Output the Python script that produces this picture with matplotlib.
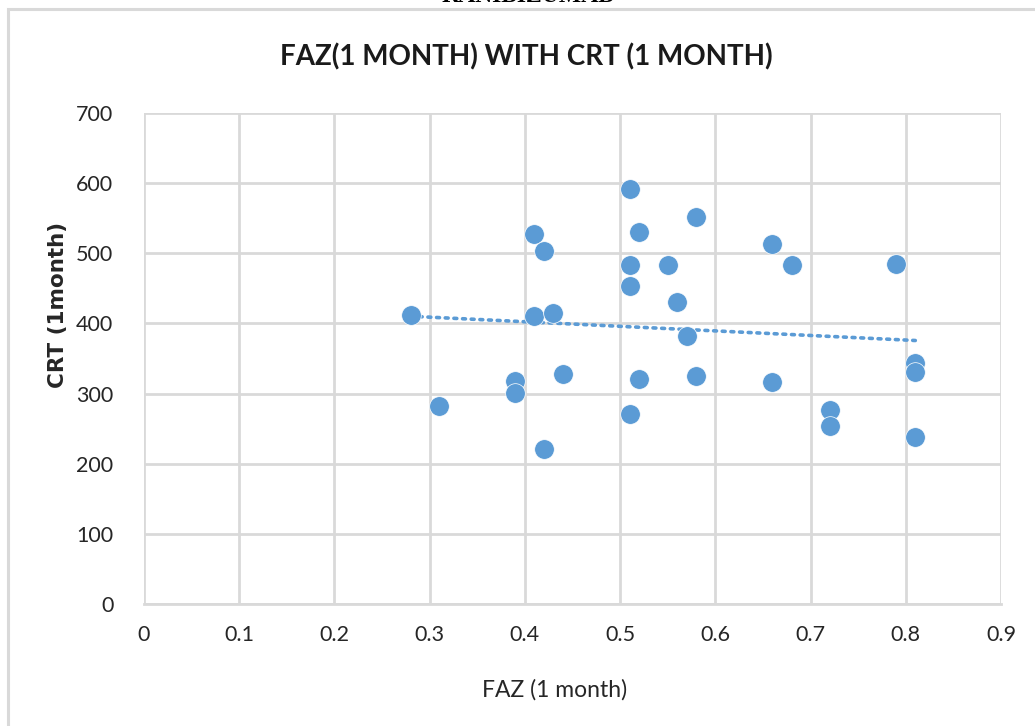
import matplotlib
matplotlib.use("Agg")
import matplotlib.pyplot as plt
import numpy as np
from matplotlib.patches import Rectangle

faz = [0.28, 0.31, 0.39, 0.39, 0.41, 0.41, 0.42, 0.42, 0.43, 0.44,
       0.51, 0.51, 0.51, 0.51, 0.52, 0.52, 0.55, 0.56, 0.57, 0.58,
       0.58, 0.66, 0.66, 0.68, 0.72, 0.72, 0.79, 0.81, 0.81, 0.81]
crt = [412, 282, 318, 301, 527, 410, 503, 221, 415, 328,
       592, 483, 453, 271, 530, 321, 483, 430, 382, 552,
       325, 513, 316, 483, 277, 254, 485, 344, 331, 238]
x_ticks = [0, 0.1, 0.2, 0.3, 0.4, 0.5, 0.6, 0.7, 0.8, 0.9]
x_tick_labels = ["0", "0.1", "0.2", "0.3", "0.4", "0.5", "0.6", "0.7", "0.8", "0.9"]
y_ticks = [0, 100, 200, 300, 400, 500, 600, 700]

plt.rcParams['font.family'] = ['Lato', 'DejaVu Sans']

W, H = 1035, 726
fig = plt.figure(figsize=(W / 100, H / 100), dpi=100)
fig.patch.set_facecolor("white")

# chart border
fig.patches.append(Rectangle((8 / W, -0.05), 1.1, 1 - 9 / H + 0.05, transform=fig.transFigure,
                             fill=False, edgecolor="#d9d9d9", linewidth=2.2, zorder=0))
# cut-off heading above the chart (as in the reference)
fig.text(528 / W, 1 + 3 / H, "RANIBIZUMAB", ha="center", va="center",
         fontsize=17, fontweight="bold", family=["Liberation Serif", "DejaVu Serif"])

left, right, top, bottom = 144, 1001, 113, 604
ax = fig.add_axes([left / W, 1 - bottom / H, (right - left) / W, (bottom - top) / H])
ax.set_xlim(0, 0.9)
ax.set_ylim(0, 700)
ax.set_xticks(x_ticks)
ax.set_xticklabels(x_tick_labels)
ax.set_yticks(y_ticks)
ax.grid(True, color="#d9d9d9", linewidth=2)
ax.set_axisbelow(True)
for s in ["top", "right", "left"]:
    ax.spines[s].set_visible(False)
ax.spines["bottom"].set_color("#d9d9d9")
ax.spines["bottom"].set_linewidth(2)
ax.tick_params(length=0, labelsize=15.5, colors="#404040", pad=15)
ax.tick_params(axis="y", pad=22)
for lbl in ax.get_xticklabels() + ax.get_yticklabels():
    lbl.set_color("#262626")

ax.scatter(faz, crt, s=200, color="#5b9bd5", edgecolors="white", linewidths=0.5, zorder=3)

# linear trendline
m, b = np.polyfit(faz, crt, 1)
xs = np.array([min(faz), max(faz)])
ax.plot(xs, m * xs + b, linestyle=(0, (0.8, 1.6)), color="#5b9bd5", linewidth=2.6,
        dash_capstyle="round", zorder=2)

fig.text(526 / W, 1 - 57 / H, "FAZ(1 MONTH) WITH CRT (1 MONTH)", ha="center", va="center",
         fontsize=20, fontweight="bold", color="#1a1a1a")
fig.text(555 / W, 1 - 690 / H, "FAZ (1 month)", ha="center", va="center",
         fontsize=16.5, color="#262626")
fig.text(58 / W, 1 - 305 / H, "CRT (1month)", ha="center", va="center", rotation=90,
         fontsize=15.5, fontweight="bold", color="#262626", family=["DejaVu Sans"])

fig.savefig("out.png", dpi=100)
